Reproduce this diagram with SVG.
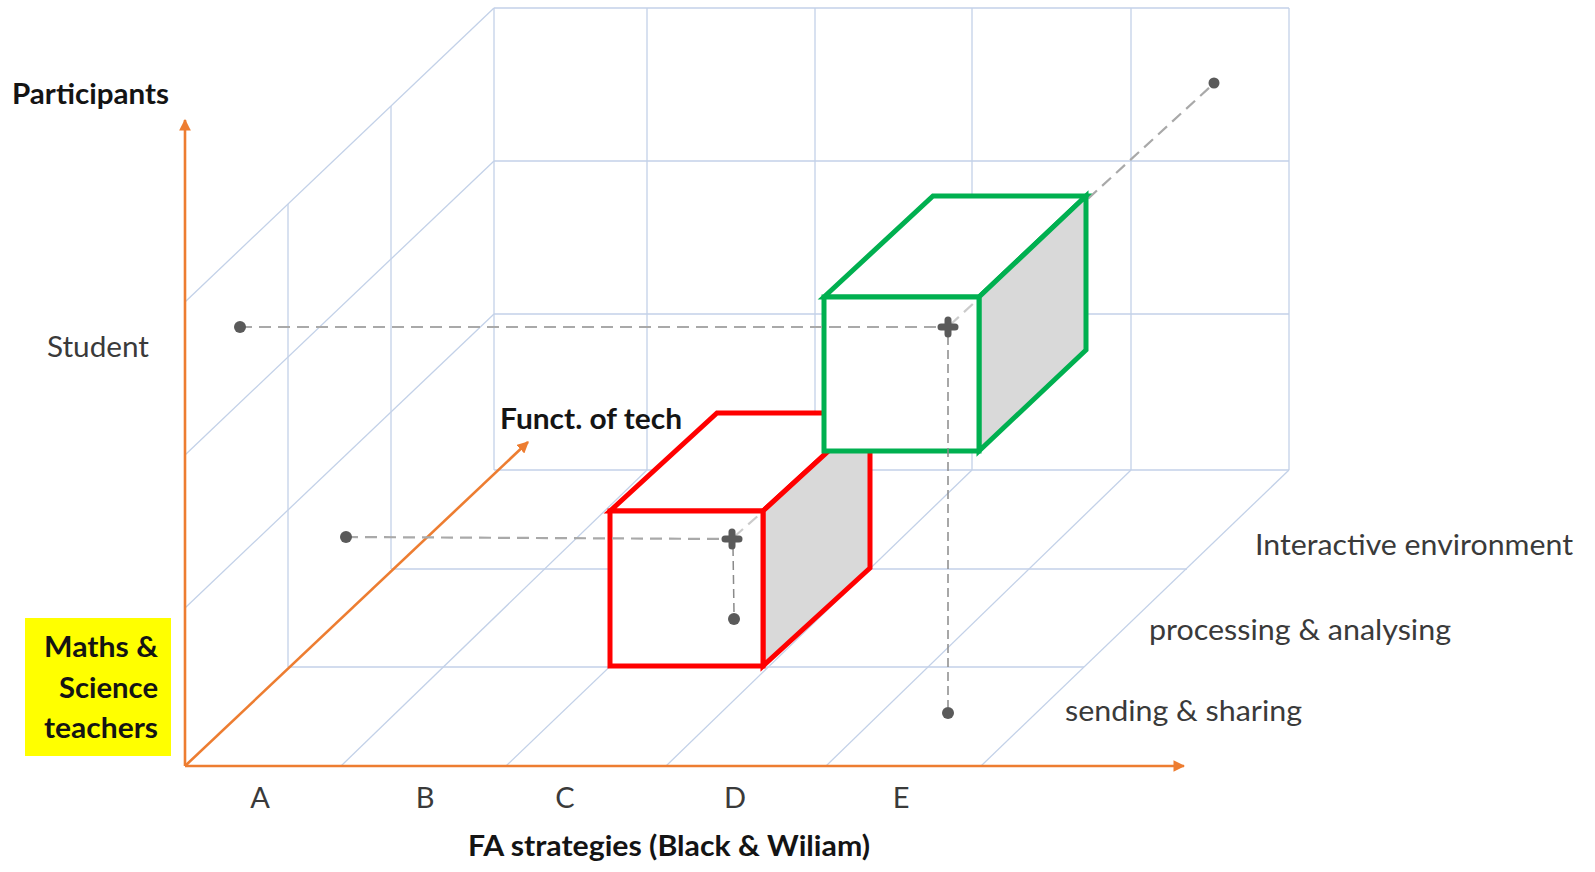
<svg xmlns="http://www.w3.org/2000/svg" width="1595" height="872" viewBox="0 0 1595 872">
  <style>
    .grid { stroke: #C3D1E8; stroke-width: 1.3; fill: none; }
    .axis { stroke: #ED7D31; stroke-width: 2.6; fill: none; }
    .lbl { font-family: Lato, "Liberation Sans", sans-serif; font-size: 29px; fill: #3A3A3A; }
    .bold { font-family: Lato, "Liberation Sans", sans-serif; font-size: 29px; font-weight: bold; fill: #141414; }
    .dash { stroke: #A9A9A9; stroke-width: 2.2; stroke-dasharray: 12 7; fill: none; }
    .vdash { stroke: #8A8A8A; stroke-width: 1.5; stroke-dasharray: 9 5; fill: none; }
    .dot { fill: #5A5A5A; }
    .cross { stroke: #5A5A5A; stroke-width: 7; stroke-linecap: round; }
    .red { stroke: #FF0000; stroke-width: 5; stroke-linejoin: miter; }
    .green { stroke: #00B050; stroke-width: 5; stroke-linejoin: miter; }
  </style>
  <defs>
    <marker id="arrow" viewBox="0 0 10 10" refX="9" refY="5" markerWidth="4.5" markerHeight="4.5" orient="auto">
      <path d="M0,0 L10,5 L0,10 Z" fill="#ED7D31"/>
    </marker>
  </defs>

  <rect width="1595" height="872" fill="#FFFFFF"/>

  <!-- 3D grid: left wall, back wall, floor -->
  <g id="grid" class="grid">
    <!-- left wall -->
    <line x1="185" y1="302" x2="494" y2="8"/>
    <line x1="185" y1="455" x2="494" y2="161"/>
    <line x1="185" y1="608" x2="494" y2="314"/>
    <line x1="288" y1="204" x2="288" y2="667"/>
    <line x1="391" y1="106" x2="391" y2="569"/>
    <!-- back wall -->
    <line x1="494" y1="8" x2="1289" y2="8"/>
    <line x1="494" y1="161" x2="1289" y2="161"/>
    <line x1="494" y1="314" x2="1289" y2="314"/>
    <line x1="494" y1="470" x2="1289" y2="470"/>
    <line x1="494" y1="8" x2="494" y2="470"/>
    <line x1="647" y1="8" x2="647" y2="470"/>
    <line x1="815" y1="8" x2="815" y2="470"/>
    <line x1="972" y1="8" x2="972" y2="470"/>
    <line x1="1131" y1="8" x2="1131" y2="470"/>
    <line x1="1289" y1="8" x2="1289" y2="470"/>
    <!-- floor -->
    <line x1="288" y1="667" x2="1084" y2="667"/>
    <line x1="391" y1="569" x2="1187" y2="569"/>
    <line x1="341" y1="766" x2="647" y2="470"/>
    <line x1="506" y1="766" x2="815" y2="470"/>
    <line x1="666" y1="766" x2="972" y2="470"/>
    <line x1="826" y1="766" x2="1131" y2="470"/>
    <line x1="981" y1="766" x2="1289" y2="470"/>
  </g>

  <!-- axes -->
  <g id="axes">
    <line class="axis" x1="185" y1="766" x2="185" y2="120" marker-end="url(#arrow)"/>
    <line class="axis" x1="185" y1="766" x2="1184" y2="766" marker-end="url(#arrow)"/>
    <line class="axis" x1="185" y1="766" x2="528" y2="442" marker-end="url(#arrow)"/>
  </g>

  <!-- depth guide running behind the green block -->
  <g id="connectors-back">
    <line class="dash" x1="948" y1="327" x2="1210" y2="87"/>
  </g>

  <!-- red block -->
  <g id="red-block">
    <polygon class="red" points="610,511 717,413 870,413 763,511" fill="#FFFFFF"/>
    <polygon class="red" points="763,511 870,413 870,568 763,666" fill="#D9D9D9"/>
    <rect class="red" x="610" y="511" width="153" height="155" fill="#FFFFFF"/>
  </g>

  <!-- green block -->
  <g id="green-block">
    <polygon class="green" points="824,297 933,196 1086,196 979,297" fill="#FFFFFF"/>
    <polygon class="green" points="979,297 1086,196 1086,350 979,451" fill="#D9D9D9"/>
    <rect class="green" x="824" y="297" width="155" height="154" fill="#FFFFFF"/>
  </g>

  <!-- projection lines -->
  <g id="connectors">
    <line class="dash" x1="240" y1="327" x2="940" y2="327"/>
    <line class="dash" x1="346" y1="537" x2="724" y2="539"/>
    <line class="vdash" x1="733" y1="547" x2="734" y2="613"/>
    <line class="vdash" x1="948" y1="336" x2="948" y2="707"/>
    <line class="dash" x1="950" y1="325" x2="976" y2="301" stroke-width="1.4" opacity="0.6"/>
    <line class="dash" x1="734" y1="537" x2="760" y2="514" stroke-width="1.4" opacity="0.6"/>
  </g>

  <!-- points -->
  <g id="points">
    <circle class="dot" cx="240" cy="327" r="6"/>
    <circle class="dot" cx="346" cy="537" r="6"/>
    <circle class="dot" cx="734" cy="619" r="6"/>
    <circle class="dot" cx="948" cy="713" r="6"/>
    <circle class="dot" cx="1214" cy="83" r="5.5"/>
    <g class="cross">
      <line x1="725" y1="539" x2="739" y2="539"/>
      <line x1="732" y1="532" x2="732" y2="546"/>
      <line x1="941" y1="327" x2="955" y2="327"/>
      <line x1="948" y1="320" x2="948" y2="334"/>
    </g>
  </g>

  <!-- labels -->
  <g id="labels">
    <text class="bold" x="12" y="104" textLength="157" lengthAdjust="spacingAndGlyphs">Participants</text>
    <text class="lbl" x="47" y="357" textLength="102" lengthAdjust="spacingAndGlyphs">Student</text>
    <text class="bold" x="500" y="429" textLength="182" lengthAdjust="spacingAndGlyphs">Funct. of tech</text>
    <g id="teachers">
      <rect x="25" y="618" width="146" height="138" fill="#FFFF00"/>
      <text class="bold" x="158" y="657" text-anchor="end" textLength="114" lengthAdjust="spacingAndGlyphs">Maths &amp;</text>
      <text class="bold" x="158" y="698" text-anchor="end" textLength="99" lengthAdjust="spacingAndGlyphs">Science</text>
      <text class="bold" x="158" y="738" text-anchor="end" textLength="114" lengthAdjust="spacingAndGlyphs">teachers</text>
    </g>
    <text class="lbl" x="260" y="808" text-anchor="middle">A</text>
    <text class="lbl" x="425" y="808" text-anchor="middle">B</text>
    <text class="lbl" x="565" y="808" text-anchor="middle">C</text>
    <text class="lbl" x="735" y="808" text-anchor="middle">D</text>
    <text class="lbl" x="901" y="808" text-anchor="middle">E</text>
    <text class="bold" x="468" y="856" textLength="402" lengthAdjust="spacingAndGlyphs">FA strategies (Black &amp; Wiliam)</text>
    <text class="lbl" x="1255" y="555" textLength="318" lengthAdjust="spacingAndGlyphs">Interactive environment</text>
    <text class="lbl" x="1149" y="640" textLength="302" lengthAdjust="spacingAndGlyphs">processing &amp; analysing</text>
    <text class="lbl" x="1065" y="721" textLength="237" lengthAdjust="spacingAndGlyphs">sending &amp; sharing</text>
  </g>
</svg>
